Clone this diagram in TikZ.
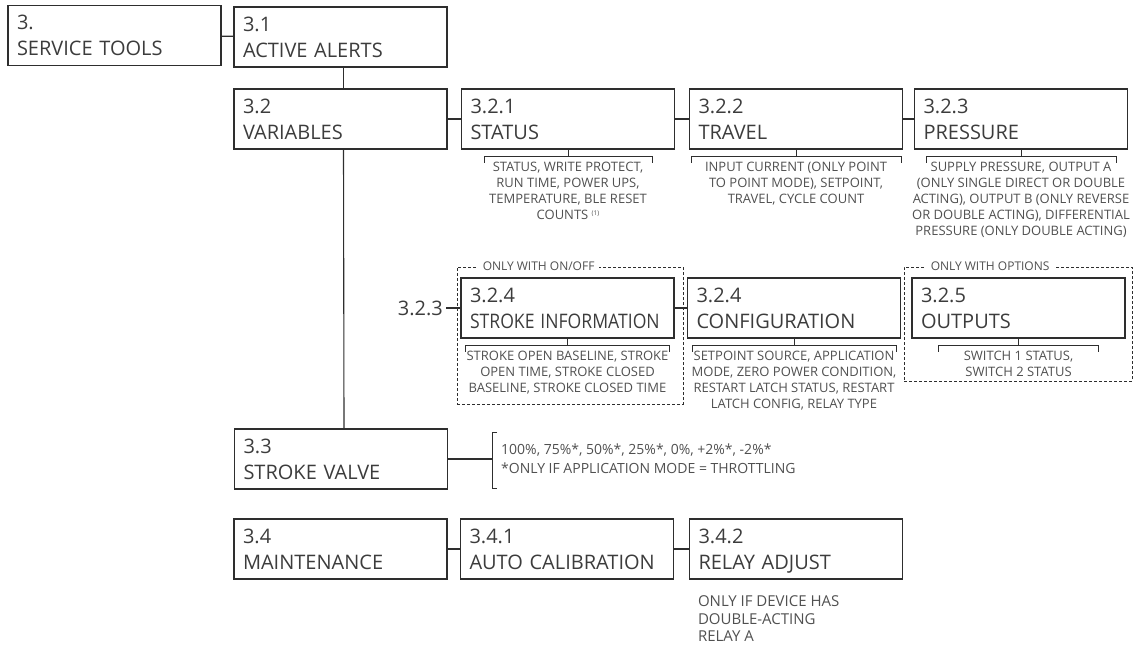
\documentclass[tikz,border=0pt]{standalone}
\usepackage{fontspec}
\setmainfont{Open Sans}
\usepackage{xcolor}
\usepackage{tikz}
\usetikzlibrary{positioning,calc}
\definecolor{MenuLine}{HTML}{2E2E2E}
\definecolor{MenuText}{HTML}{3C3C3C}
\definecolor{MenuNote}{HTML}{505050}

\begin{document}
\begin{tikzpicture}[x=1pt,y=-1pt,
  menubox/.style={draw=MenuLine,line width=1.4pt,minimum width=213pt,minimum height=60pt,
    text width=195pt,align=left,inner sep=0pt,text=MenuText,font=\fontsize{20}{26}\selectfont},
  link/.style={draw=MenuLine,line width=1.1pt},
  brace/.style={draw=MenuLine,line width=0.9pt},
  notetext/.style={text=MenuNote,align=center,inner sep=0pt,font=\fontsize{13}{16}\selectfont},
  optframe/.style={draw=MenuLine,line width=0.9pt,dash pattern=on 3pt off 2pt,inner sep=0pt},
  optlabel/.style={fill=white,text=MenuNote,inner xsep=5pt,inner ysep=1pt,font=\fontsize{12}{13}\selectfont}]
\useasboundingbox (0,0) rectangle (1134,647);

\node[optframe,minimum width=226pt,minimum height=137pt] (onoff) at (570,335.5) {};
\node[optframe,minimum width=228pt,minimum height=114pt] (withopt) at (1018,324) {};
\node[optlabel,anchor=west] (onofflbl) at ($(onoff.north west)+(21,0)$) {ONLY WITH ON/OFF};
\node[optlabel,anchor=west] (withoptlbl) at ($(withopt.north west)+(22,0)$) {ONLY WITH OPTIONS};

\node[menubox] (svc) at (114.5,35.5) {3.\\SERVICE TOOLS};
\node[menubox] (alerts) at (340.5,37) {3.1\\ACTIVE ALERTS};
\node[menubox] (vars) at (340.5,119) {3.2\\VARIABLES};
\node[menubox] (status) at (568,119) {3.2.1\\STATUS};
\node[menubox] (travel) at (796,119) {3.2.2\\TRAVEL};
\node[menubox] (press) at (1021,119) {3.2.3\\PRESSURE};
\node[menubox] (stroke) at (567.5,308) {3.2.4\\\scalebox{0.88}[1]{STROKE INFORMATION}};
\node[menubox] (config) at (794,308) {3.2.4\\CONFIGURATION};
\node[menubox] (outputs) at (1018.5,308) {3.2.5\\OUTPUTS};
\node[menubox] (valve) at (341,459) {3.3\\STROKE VALVE};
\node[menubox] (maint) at (340.5,549) {3.4\\MAINTENANCE};
\node[menubox] (autocal) at (567,549) {3.4.1\\AUTO CALIBRATION};
\node[menubox] (relay) at (796,549) {3.4.2\\\smash{RELAY ADJUST}};
\node[text=MenuText,inner xsep=3pt,inner ysep=0pt,anchor=east,font=\fontsize{20}{24}\selectfont] (sub323) at (446,308) {3.2.3};

\draw[link] (svc) -- (alerts);
\draw[link] ([xshift=3pt]alerts.south) -- ([xshift=3pt]vars.north);
\draw[link] ([xshift=3pt]vars.south) -- ([xshift=3pt]valve.north);
\draw[link] (vars) -- (status);
\draw[link] (status) -- (travel);
\draw[link] (travel) -- (press);
\draw[link] (sub323) -- (stroke);
\draw[link] (stroke) -- (config);
\draw[link] (maint) -- (autocal);
\draw[link] (autocal) -- (relay);

\foreach \n/\half in {status/84,travel/105,press/95,stroke/102,config/102,outputs/80}{
  \draw[brace] (\n.south) -- ++(0,7) coordinate (\n brace) -- ++(-\half,0) -- ++(0,6);
  \draw[brace] (\n brace) -- ++(\half,0) -- ++(0,6);
}

\node[notetext,below=12pt of status] (statusnote) {STATUS, WRITE PROTECT,\\RUN TIME, POWER UPS,\\TEMPERATURE, BLE RESET\\COUNTS \raisebox{4pt}{\fontsize{6.5}{7}\selectfont(1)}};
\node[notetext,below=12pt of travel] (travelnote) {INPUT CURRENT (ONLY POINT\\TO POINT MODE), SETPOINT,\\TRAVEL, CYCLE COUNT};
\node[notetext,below=12pt of press] (pressnote) {SUPPLY PRESSURE, OUTPUT A\\(ONLY SINGLE DIRECT OR DOUBLE\\ACTING), OUTPUT B (ONLY REVERSE\\OR DOUBLE ACTING), DIFFERENTIAL\\PRESSURE (ONLY DOUBLE ACTING)};
\node[notetext,below=12pt of stroke] (strokenote) {STROKE OPEN BASELINE, STROKE\\OPEN TIME, STROKE CLOSED\\BASELINE, STROKE CLOSED TIME};
\node[notetext,below=12pt of config] (confignote) {SETPOINT SOURCE, APPLICATION\\MODE, ZERO POWER CONDITION,\\RESTART LATCH STATUS, RESTART\\LATCH CONFIG, RELAY TYPE};
\node[notetext,below=12pt of outputs] (outputsnote) {SWITCH 1 STATUS,\\SWITCH 2 STATUS};

\coordinate (valvebr) at (492,459);
\draw[link] (valve) -- (valvebr);
\draw[brace] ($(valvebr)+(5,-27)$) -- ++(-5,0) -- ++(0,56) -- ++(5,0);
\node[notetext,align=left,anchor=west,font=\fontsize{14}{19}\selectfont] (valvenote) at ($(valvebr)+(9,0)$) {100\%, 75\%*, 50\%*, 25\%*, 0\%, +2\%*, -2\%*\\{*}ONLY IF APPLICATION MODE = THROTTLING};
\node[notetext,align=left,anchor=north west,font=\fontsize{15}{17.5}\selectfont] (relaynote) at ($(relay.south west)+(9,16)$) {ONLY IF DEVICE HAS\\DOUBLE-ACTING\\RELAY A};
\end{tikzpicture}
\end{document}
